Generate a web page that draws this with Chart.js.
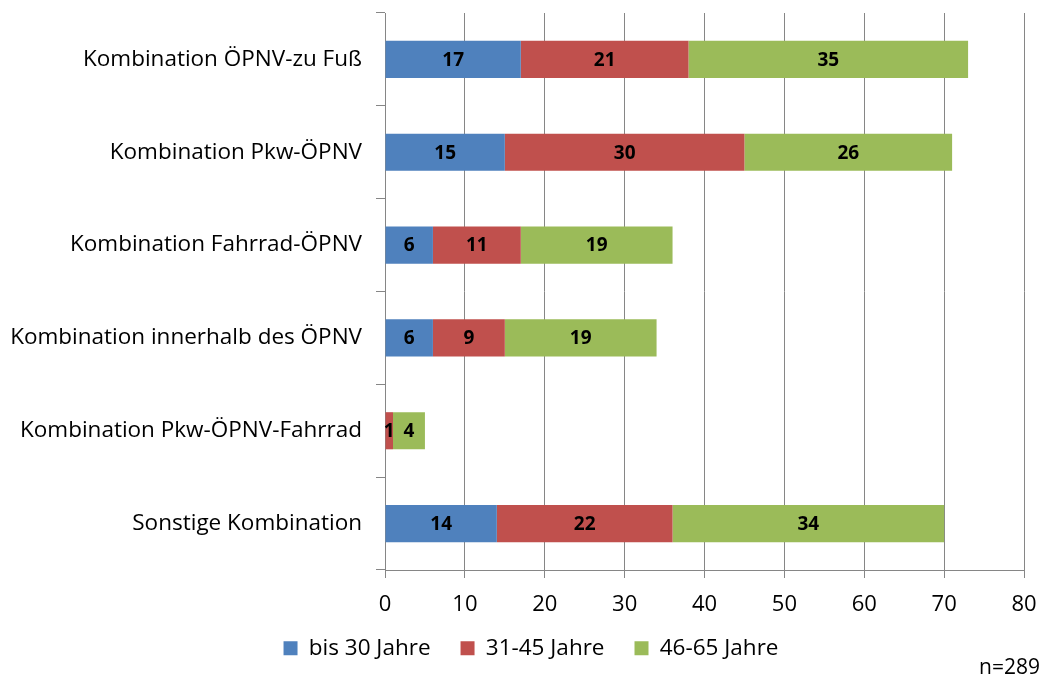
<!DOCTYPE html>
<html>
<head>
<meta charset="utf-8">
<script src="https://cdn.jsdelivr.net/npm/chart.js@4"></script>
<style>
  body { margin: 0; background: #fff; }
  #wrap { position: relative; width: 1044px; height: 680px; }
  #note { position: absolute; right: 4px; bottom: 0px; font: 21px "Open Sans", sans-serif; color: #000; }
</style>
</head>
<body>
<div id="wrap">
  <canvas id="chart" width="1044" height="680"></canvas>
  <div id="note">n=289</div>
</div>
<script>
var categories = [
  'Kombination ÖPNV-zu Fuß',
  'Kombination Pkw-ÖPNV',
  'Kombination Fahrrad-ÖPNV',
  'Kombination innerhalb des ÖPNV',
  'Kombination Pkw-ÖPNV-Fahrrad',
  'Sonstige Kombination'
];
var seriesNames = ['bis 30 Jahre', '31-45 Jahre', '46-65 Jahre'];
var bis30 = [17, 15, 6, 6, 0, 14];
var mid = [21, 30, 11, 9, 1, 22];
var old = [35, 26, 19, 19, 4, 34];
var xTicks = [0, 10, 20, 30, 40, 50, 60, 70, 80];

var fontName = '"Open Sans", sans-serif';
var gridColor = '#868686';

// draws the numbers in the middle of each segment
var segLabels = {
  id: 'segLabels',
  afterDatasetsDraw: function (chart) {
    var ctx = chart.ctx;
    ctx.save();
    ctx.font = 'bold 19px ' + fontName;
    ctx.fillStyle = '#000';
    ctx.textAlign = 'center';
    ctx.textBaseline = 'middle';
    chart.data.datasets.forEach(function (ds, i) {
      var meta = chart.getDatasetMeta(i);
      meta.data.forEach(function (bar, j) {
        var v = ds.data[j];
        if (!v) return;
        ctx.fillText(String(v), (bar.x + bar.base) / 2, bar.y + 1);
      });
    });
    ctx.restore();
  }
};

// nudge the legend a bit right and up, like the original
var legendShift = {
  id: 'legendShift',
  afterLayout: function (chart) {
    var lg = chart.legend;
    if (!lg) return;
    lg.left += 38;
    lg.top -= 11;
    lg.bottom -= 11;
  }
};

new Chart(document.getElementById('chart'), {
  type: 'bar',
  data: {
    labels: categories,
    datasets: [
      { label: seriesNames[0], data: bis30, backgroundColor: '#4F81BD' },
      { label: seriesNames[1], data: mid, backgroundColor: '#C0504D' },
      { label: seriesNames[2], data: old, backgroundColor: '#9BBB59' }
    ]
  },
  options: {
    indexAxis: 'y',
    responsive: false,
    animation: false,
    categoryPercentage: 0.8,
    barPercentage: 0.5,
    layout: { padding: { top: 13, right: 20, bottom: 2, left: 0 } },
    scales: {
      x: {
        stacked: true,
        min: 0,
        max: 80,
        afterBuildTicks: function (scale) {
          scale.ticks = xTicks.map(function (v) { return { value: v }; });
        },
        afterFit: function (scale) {
          scale.height = 48;
          scale.paddingLeft = 0;
          scale.paddingRight = 0;
        },
        grid: { color: gridColor, tickLength: 8, drawOnChartArea: true },
        border: { color: gridColor },
        ticks: { color: '#000', font: { family: fontName, size: 22 }, padding: 14 }
      },
      y: {
        stacked: true,
        afterFit: function (scale) {
          scale.width = 385;
          scale.paddingTop = 0;
          scale.paddingBottom = 0;
        },
        grid: { color: gridColor, drawOnChartArea: false, tickLength: 9, offset: true },
        border: { color: gridColor },
        ticks: { color: '#000', font: { family: fontName, size: 22.5 }, padding: 14 }
      }
    },
    plugins: {
      legend: {
        position: 'bottom',
        maxHeight: 60,
        labels: {
          color: '#000',
          font: { family: fontName, size: 22.5 },
          boxWidth: 14,
          boxHeight: 14,
          padding: 30
        }
      },
      tooltip: { enabled: false }
    }
  },
  plugins: [segLabels, legendShift]
});
</script>
</body>
</html>
